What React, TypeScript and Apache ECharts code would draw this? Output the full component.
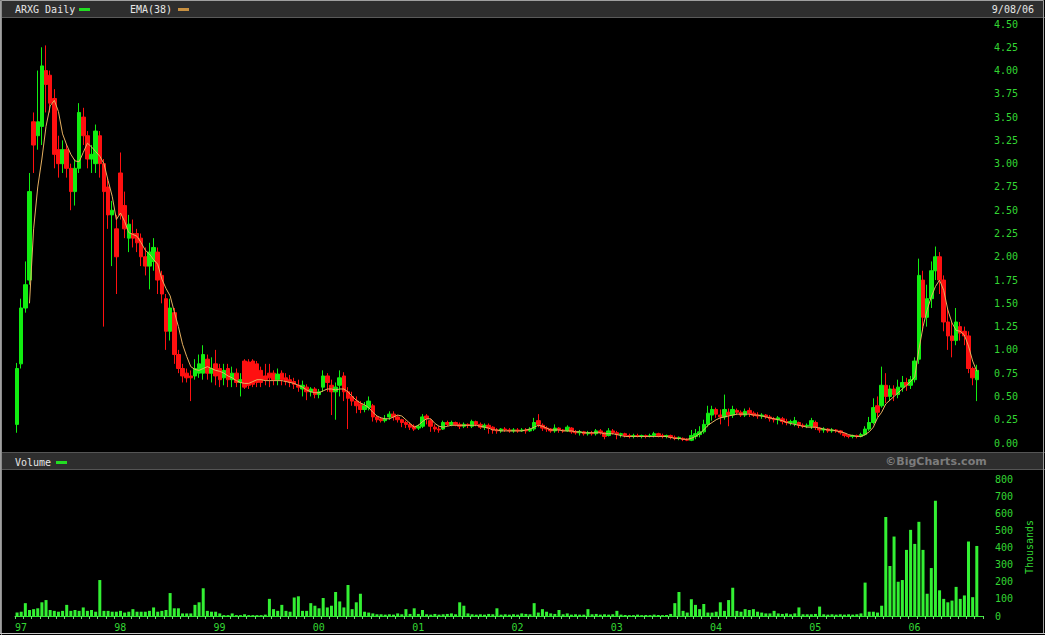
import React, { useEffect, useRef } from 'react';
import * as echarts from 'echarts';

// Semi-monthly candles: [open, close, low, high]
const years = [1997, 1998, 1999, 2000, 2001, 2002, 2003, 2004, 2005, 2006];
const yearLabels = ['97', '98', '99', '00', '01', '02', '03', '04', '05', '06'];

const ohlc1997 = [
  [0.2, 0.8, 0.11, 0.86], [0.85, 1.45, 0.8, 1.55], [1.45, 1.7, 1.4, 1.95], [1.75, 2.7, 1.7, 2.9],
  [3.45, 3.2, 2.9, 3.55], [3.3, 3.45, 3.15, 4.0], [3.4, 4.05, 3.2, 4.25], [4.0, 3.85, 3.55, 4.27],
  [3.95, 3.65, 3.55, 4.0], [3.7, 3.1, 2.95, 3.8], [3.15, 3.0, 2.85, 3.3], [3.0, 3.15, 2.9, 3.25],
  [3.15, 2.95, 2.85, 3.2], [2.95, 2.7, 2.5, 3.0], [2.7, 2.95, 2.55, 3.05], [2.95, 3.55, 2.9, 3.65],
  [3.5, 3.3, 3.2, 3.6], [3.3, 3.05, 2.95, 3.35], [3.05, 3.1, 2.9, 3.2], [3.0, 3.35, 2.9, 3.42],
  [3.3, 3.0, 2.85, 3.35], [3.0, 2.7, 1.25, 3.05], [2.75, 2.45, 2.3, 2.85], [2.45, 2.5, 1.9, 2.6],
];
const ohlc1998 = [
  [2.3, 2.0, 1.6, 2.45], [2.9, 2.45, 2.4, 3.12], [2.55, 2.3, 2.2, 2.7], [2.2, 2.35, 2.05, 2.45],
  [2.25, 2.2, 2.1, 2.4], [2.25, 2.15, 2.05, 2.3], [2.2, 2.0, 1.9, 2.25], [2.0, 1.9, 1.8, 2.1],
  [1.9, 2.05, 1.65, 2.15], [1.95, 2.1, 1.85, 2.2], [2.05, 1.75, 1.6, 2.1], [1.8, 1.6, 1.5, 1.85],
  [1.55, 1.2, 1.0, 1.6], [1.2, 1.45, 1.1, 1.55], [1.4, 0.95, 0.85, 1.45], [0.95, 0.8, 0.75, 1.0],
  [0.8, 0.72, 0.65, 0.85], [0.75, 0.7, 0.65, 0.8], [0.72, 0.7, 0.45, 0.78], [0.72, 0.8, 0.68, 0.9],
  [0.75, 0.85, 0.7, 0.95], [0.75, 0.95, 0.68, 1.05], [0.9, 0.75, 0.68, 0.95], [0.75, 0.8, 0.65, 0.92],
];
const ohlc1999 = [
  [0.85, 0.72, 0.62, 1.0], [0.8, 0.68, 0.6, 0.85], [0.7, 0.78, 0.62, 0.85], [0.8, 0.68, 0.6, 0.85],
  [0.68, 0.75, 0.6, 0.82], [0.75, 0.65, 0.6, 0.8], [0.65, 0.68, 0.5, 0.75], [0.88, 0.6, 0.58, 0.9],
  [0.87, 0.62, 0.58, 0.9], [0.88, 0.63, 0.6, 0.9], [0.85, 0.65, 0.6, 0.88], [0.78, 0.65, 0.6, 0.82],
  [0.72, 0.68, 0.62, 0.85], [0.75, 0.7, 0.6, 0.85], [0.75, 0.68, 0.62, 0.78], [0.68, 0.74, 0.62, 0.8],
  [0.75, 0.68, 0.62, 0.78], [0.7, 0.66, 0.62, 0.75], [0.68, 0.65, 0.6, 0.73], [0.66, 0.63, 0.58, 0.7],
  [0.62, 0.6, 0.55, 0.68], [0.58, 0.62, 0.5, 0.67], [0.6, 0.55, 0.46, 0.63], [0.55, 0.58, 0.5, 0.6],
];
const ohlc2000 = [
  [0.58, 0.52, 0.48, 0.6], [0.52, 0.55, 0.48, 0.58], [0.6, 0.72, 0.55, 0.78], [0.72, 0.65, 0.55, 0.75],
  [0.62, 0.55, 0.3, 0.68], [0.55, 0.6, 0.25, 0.65], [0.62, 0.7, 0.5, 0.78], [0.72, 0.55, 0.45, 0.76],
  [0.55, 0.48, 0.15, 0.6], [0.5, 0.45, 0.4, 0.55], [0.45, 0.4, 0.32, 0.5], [0.42, 0.36, 0.32, 0.45],
  [0.36, 0.4, 0.33, 0.44], [0.38, 0.45, 0.35, 0.5], [0.4, 0.28, 0.23, 0.42], [0.28, 0.25, 0.22, 0.3],
  [0.26, 0.24, 0.22, 0.28], [0.24, 0.26, 0.22, 0.3], [0.28, 0.31, 0.25, 0.34], [0.31, 0.28, 0.24, 0.34],
  [0.28, 0.25, 0.22, 0.3], [0.25, 0.22, 0.17, 0.26], [0.22, 0.2, 0.16, 0.24], [0.2, 0.17, 0.14, 0.22],
];
const ohlc2001 = [
  [0.18, 0.15, 0.13, 0.2], [0.16, 0.18, 0.14, 0.2], [0.18, 0.28, 0.16, 0.31], [0.29, 0.26, 0.2, 0.31],
  [0.24, 0.18, 0.12, 0.26], [0.17, 0.15, 0.12, 0.2], [0.15, 0.14, 0.11, 0.18], [0.15, 0.22, 0.14, 0.24],
  [0.22, 0.2, 0.18, 0.24], [0.2, 0.22, 0.18, 0.24], [0.22, 0.2, 0.18, 0.23], [0.2, 0.18, 0.15, 0.22],
  [0.18, 0.2, 0.16, 0.22], [0.2, 0.19, 0.16, 0.21], [0.18, 0.23, 0.16, 0.25], [0.23, 0.2, 0.18, 0.24],
  [0.2, 0.17, 0.15, 0.22], [0.17, 0.19, 0.14, 0.21], [0.19, 0.16, 0.1, 0.21], [0.17, 0.14, 0.1, 0.18],
  [0.14, 0.13, 0.1, 0.16], [0.13, 0.15, 0.11, 0.16], [0.15, 0.14, 0.12, 0.17], [0.14, 0.13, 0.11, 0.16],
];
const ohlc2002 = [
  [0.13, 0.14, 0.11, 0.16], [0.14, 0.13, 0.11, 0.16], [0.13, 0.14, 0.12, 0.16], [0.14, 0.13, 0.1, 0.16],
  [0.13, 0.15, 0.12, 0.17], [0.15, 0.22, 0.13, 0.27], [0.24, 0.2, 0.17, 0.31], [0.19, 0.16, 0.13, 0.21],
  [0.16, 0.15, 0.12, 0.18], [0.15, 0.13, 0.11, 0.16], [0.13, 0.16, 0.11, 0.2], [0.16, 0.14, 0.11, 0.17],
  [0.14, 0.13, 0.11, 0.15], [0.13, 0.17, 0.12, 0.19], [0.16, 0.12, 0.1, 0.17], [0.12, 0.11, 0.09, 0.14],
  [0.11, 0.12, 0.08, 0.14], [0.12, 0.1, 0.08, 0.13], [0.1, 0.11, 0.08, 0.13], [0.11, 0.1, 0.08, 0.13],
  [0.1, 0.13, 0.08, 0.15], [0.13, 0.11, 0.09, 0.15], [0.11, 0.07, 0.04, 0.12], [0.08, 0.13, 0.07, 0.16],
];
const ohlc2003 = [
  [0.13, 0.11, 0.09, 0.15], [0.11, 0.09, 0.04, 0.13], [0.09, 0.1, 0.06, 0.11], [0.1, 0.08, 0.06, 0.11],
  [0.08, 0.07, 0.05, 0.1], [0.07, 0.08, 0.05, 0.1], [0.08, 0.07, 0.06, 0.1], [0.07, 0.08, 0.05, 0.09],
  [0.08, 0.07, 0.05, 0.09], [0.07, 0.08, 0.06, 0.1], [0.08, 0.1, 0.06, 0.12], [0.1, 0.08, 0.06, 0.11],
  [0.08, 0.07, 0.05, 0.1], [0.07, 0.08, 0.05, 0.09], [0.08, 0.06, 0.04, 0.09], [0.06, 0.05, 0.03, 0.08],
  [0.05, 0.06, 0.03, 0.07], [0.05, 0.04, 0.02, 0.06], [0.04, 0.03, 0.02, 0.05], [0.03, 0.08, 0.02, 0.14],
  [0.07, 0.1, 0.04, 0.15], [0.09, 0.12, 0.06, 0.18], [0.12, 0.2, 0.1, 0.25], [0.2, 0.32, 0.17, 0.4],
];
const ohlc2004 = [
  [0.3, 0.36, 0.24, 0.4], [0.36, 0.31, 0.27, 0.38], [0.3, 0.28, 0.2, 0.36], [0.28, 0.36, 0.25, 0.52],
  [0.33, 0.3, 0.18, 0.37], [0.3, 0.36, 0.27, 0.4], [0.35, 0.33, 0.3, 0.37], [0.33, 0.3, 0.28, 0.35],
  [0.3, 0.34, 0.28, 0.37], [0.35, 0.32, 0.28, 0.38], [0.32, 0.3, 0.28, 0.34], [0.3, 0.29, 0.26, 0.33],
  [0.29, 0.3, 0.26, 0.32], [0.3, 0.28, 0.26, 0.31], [0.28, 0.26, 0.23, 0.3], [0.26, 0.25, 0.22, 0.28],
  [0.25, 0.27, 0.2, 0.29], [0.26, 0.23, 0.2, 0.28], [0.23, 0.22, 0.19, 0.26], [0.22, 0.23, 0.19, 0.25],
  [0.21, 0.24, 0.18, 0.28], [0.22, 0.19, 0.16, 0.23], [0.19, 0.18, 0.16, 0.21], [0.18, 0.19, 0.16, 0.21],
];
const ohlc2005 = [
  [0.18, 0.24, 0.15, 0.27], [0.22, 0.17, 0.14, 0.24], [0.16, 0.14, 0.11, 0.17], [0.14, 0.15, 0.11, 0.17],
  [0.15, 0.13, 0.11, 0.16], [0.13, 0.14, 0.11, 0.16], [0.14, 0.13, 0.11, 0.15], [0.13, 0.11, 0.09, 0.14],
  [0.1, 0.08, 0.06, 0.11], [0.08, 0.07, 0.05, 0.09], [0.07, 0.08, 0.05, 0.09], [0.08, 0.07, 0.05, 0.09],
  [0.07, 0.09, 0.06, 0.11], [0.09, 0.15, 0.08, 0.18], [0.15, 0.22, 0.13, 0.28], [0.22, 0.38, 0.2, 0.48],
  [0.4, 0.33, 0.28, 0.5], [0.4, 0.62, 0.38, 0.82], [0.62, 0.5, 0.43, 0.75], [0.5, 0.58, 0.45, 0.62],
  [0.58, 0.52, 0.45, 0.62], [0.52, 0.6, 0.48, 0.68], [0.6, 0.65, 0.55, 0.72], [0.65, 0.62, 0.56, 0.7],
];
const ohlc2006 = [
  [0.62, 0.68, 0.58, 0.72], [0.68, 0.88, 0.65, 0.92], [0.9, 1.8, 0.85, 1.98], [1.75, 1.35, 1.2, 1.85],
  [1.35, 1.55, 1.25, 1.7], [1.55, 1.85, 1.45, 1.95], [1.85, 2.0, 1.75, 2.11], [2.0, 1.75, 1.6, 2.05],
  [1.75, 1.3, 1.2, 1.8], [1.3, 1.15, 1.0, 1.45], [1.15, 1.1, 0.92, 1.3], [1.1, 1.3, 1.05, 1.45],
  [1.25, 1.18, 1.1, 1.3], [1.2, 1.15, 1.05, 1.25], [1.15, 0.8, 0.75, 1.2], [0.8, 0.7, 0.62, 0.82],
  [0.68, 0.78, 0.45, 0.84],
];

// EMA(38), one value per half-month
const ema1997 = [null, null, null, 1.5, 2.3, 2.75, 3.05, 3.4, 3.62, 3.68, 3.56, 3.32, 3.2, 3.1, 3.03, 3.02, 3.12, 3.22, 3.18, 3.13, 3.08, 3.0, 2.82, 2.65];
const ema1998 = [2.4, 2.47, 2.38, 2.26, 2.24, 2.22, 2.15, 2.07, 2.03, 1.97, 1.92, 1.76, 1.66, 1.58, 1.41, 1.25, 1.06, 0.93, 0.82, 0.79, 0.78, 0.8, 0.82, 0.8];
const ema1999 = [0.78, 0.77, 0.75, 0.72, 0.7, 0.67, 0.65, 0.64, 0.64, 0.66, 0.68, 0.68, 0.67, 0.67, 0.67, 0.67, 0.67, 0.66, 0.65, 0.64, 0.62, 0.6, 0.57, 0.55];
const ema2000 = [0.54, 0.54, 0.56, 0.58, 0.58, 0.57, 0.58, 0.58, 0.55, 0.5, 0.46, 0.43, 0.41, 0.38, 0.33, 0.29, 0.27, 0.26, 0.26, 0.28, 0.3, 0.29, 0.25, 0.21];
const ema2001 = [0.17, 0.19, 0.23, 0.26, 0.26, 0.21, 0.18, 0.17, 0.18, 0.19, 0.19, 0.19, 0.19, 0.19, 0.19, 0.19, 0.18, 0.17, 0.16, 0.14, 0.14, 0.13, 0.13, 0.13];
const ema2002 = [0.13, 0.13, 0.13, 0.14, 0.15, 0.17, 0.19, 0.18, 0.16, 0.14, 0.14, 0.14, 0.13, 0.13, 0.13, 0.12, 0.12, 0.11, 0.11, 0.11, 0.11, 0.11, 0.1, 0.1];
const ema2003 = [0.1, 0.09, 0.08, 0.07, 0.07, 0.07, 0.07, 0.07, 0.07, 0.07, 0.07, 0.07, 0.07, 0.07, 0.06, 0.05, 0.05, 0.04, 0.04, 0.05, 0.07, 0.1, 0.14, 0.19];
const ema2004 = [0.22, 0.25, 0.27, 0.28, 0.29, 0.3, 0.31, 0.31, 0.31, 0.31, 0.3, 0.3, 0.29, 0.28, 0.27, 0.26, 0.25, 0.24, 0.22, 0.21, 0.2, 0.19, 0.18, 0.17];
const ema2005 = [0.17, 0.17, 0.16, 0.15, 0.14, 0.14, 0.13, 0.12, 0.11, 0.09, 0.08, 0.07, 0.07, 0.09, 0.12, 0.17, 0.27, 0.33, 0.42, 0.46, 0.5, 0.54, 0.58, 0.62];
const ema2006 = [0.66, 0.71, 1.0, 1.25, 1.43, 1.57, 1.68, 1.75, 1.64, 1.43, 1.29, 1.21, 1.2, 1.16, 1.04, 0.88, 0.77];

// Volume (thousands), one bar per half-month
const vol1997 = [20, 25, 75, 35, 40, 45, 80, 93, 35, 30, 25, 30, 65, 30, 35, 30, 50, 30, 35, 25, 210, 30, 30, 25];
const vol1998 = [25, 30, 20, 25, 40, 25, 25, 25, 30, 50, 25, 30, 35, 134, 45, 45, 15, 15, 15, 65, 80, 162, 30, 25];
const vol1999 = [25, 15, 5, 5, 15, 5, 5, 10, 5, 5, 5, 5, 8, 100, 40, 30, 65, 30, 25, 108, 115, 30, 30, 75];
const vol2000 = [60, 45, 105, 50, 60, 140, 85, 50, 181, 40, 80, 130, 25, 20, 15, 10, 10, 8, 10, 8, 15, 10, 40, 12];
const vol2001 = [45, 12, 35, 10, 8, 12, 8, 10, 12, 15, 10, 80, 60, 15, 10, 8, 10, 8, 12, 10, 45, 8, 10, 8];
const vol2002 = [10, 8, 15, 12, 10, 75, 20, 40, 25, 15, 12, 35, 10, 15, 8, 10, 8, 8, 40, 10, 12, 8, 10, 8];
const vol2003 = [10, 30, 8, 6, 5, 5, 8, 5, 6, 5, 8, 6, 5, 6, 12, 75, 140, 30, 20, 98, 65, 40, 70, 20];
const vol2004 = [20, 25, 80, 30, 93, 165, 30, 25, 40, 35, 40, 25, 20, 15, 15, 30, 15, 12, 15, 10, 15, 50, 10, 10];
const vol2005 = [10, 12, 55, 10, 8, 10, 8, 10, 8, 10, 8, 10, 15, 195, 25, 25, 20, 60, 578, 292, 464, 200, 210, 386];
const vol2006 = [503, 421, 550, 386, 130, 280, 673, 150, 100, 80, 90, 170, 100, 120, 435, 110, 409];

const ohlcByYear = [ohlc1997, ohlc1998, ohlc1999, ohlc2000, ohlc2001, ohlc2002, ohlc2003, ohlc2004, ohlc2005, ohlc2006];
const emaByYear = [ema1997, ema1998, ema1999, ema2000, ema2001, ema2002, ema2003, ema2004, ema2005, ema2006];
const volByYear = [vol1997, vol1998, vol1999, vol2000, vol2001, vol2002, vol2003, vol2004, vol2005, vol2006];

const GREEN_TXT = '#33d633';
const MONO = '"DejaVu Sans Mono", monospace';

export default function App() {
  const ref = useRef<HTMLDivElement>(null);

  useEffect(() => {
    document.body.style.margin = '0';
    document.body.style.background = '#000';
    if (!ref.current) return;
    const chart = echarts.init(ref.current, undefined, { renderer: 'svg' });

    const candles: number[][] = [];
    const emaPts: number[][] = [];
    const volPts: number[][] = [];
    years.forEach((y, i) => {
      ohlcByYear[i].forEach((r, j) => {
        const t = y + (j + 0.5) / 24;
        candles.push([t, r[0], r[1], r[2], r[3]]);
        const e = emaByYear[i][j];
        if (e != null) emaPts.push([t, e]);
        volPts.push([t, volByYear[i][j]]);
      });
    });

    const yearFmt = (v: number) => {
      const k = Math.round(v * 12);
      if (Math.abs(v * 12 - k) > 1e-4 || k % 12 !== 0) return '';
      const idx = k / 12 - 1997;
      return yearLabels[idx] ?? '';
    };

    const txt = (x: number, y: number, text: string, fill: string, font: string, align = 'left') => ({
      type: 'text',
      x,
      y,
      silent: true,
      style: { text, fill, font, textAlign: align, textVerticalAlign: 'middle', align, verticalAlign: 'middle' },
    });

    const option: any = {
      animation: false,
      backgroundColor: '#000',
      grid: [
        { left: 15, right: 62, top: 24, height: 419 },
        { left: 15, right: 62, top: 479, height: 137 },
      ],
      xAxis: [
        { type: 'value', gridIndex: 0, min: 1997, max: 2006.75, show: false },
        {
          type: 'value',
          gridIndex: 1,
          min: 1997,
          max: 2006.75,
          interval: 1 / 12,
          axisLine: { show: true, onZero: false, lineStyle: { color: '#33ee33', width: 1 } },
          axisTick: { show: true, length: 3, lineStyle: { color: '#66dd66' } },
          splitLine: { show: false },
          axisLabel: { formatter: yearFmt, align: 'left', color: GREEN_TXT, fontFamily: MONO, fontSize: 10, margin: 6 },
        },
      ],
      yAxis: [
        {
          type: 'value', gridIndex: 0, position: 'right', min: 0, max: 4.5, interval: 0.25,
          axisLine: { show: false }, axisTick: { show: false }, splitLine: { show: false },
          axisLabel: { formatter: (v: number) => v.toFixed(2), color: GREEN_TXT, fontFamily: MONO, fontSize: 10, margin: 11 },
        },
        {
          type: 'value', gridIndex: 1, position: 'right', min: 0, max: 800, interval: 100,
          axisLine: { show: false }, axisTick: { show: false }, splitLine: { show: false },
          axisLabel: { color: GREEN_TXT, fontFamily: MONO, fontSize: 10, margin: 12 },
        },
      ],
      series: [
        {
          type: 'candlestick',
          xAxisIndex: 0,
          yAxisIndex: 0,
          data: candles,
          encode: { x: 0, y: [1, 2, 3, 4] },
          barWidth: 4,
          itemStyle: { color: '#11ee11', color0: '#ff1010', borderColor: '#11ee11', borderColor0: '#ff1010', borderWidth: 1 },
        },
        {
          type: 'line',
          xAxisIndex: 0,
          yAxisIndex: 0,
          data: emaPts,
          symbol: 'none',
          showSymbol: false,
          lineStyle: { color: '#e6b060', width: 1 },
          z: 5,
        },
        {
          type: 'bar',
          xAxisIndex: 1,
          yAxisIndex: 1,
          data: volPts,
          barWidth: 3,
          itemStyle: { color: '#33f033' },
        },
      ],
      graphic: [
        { type: 'rect', shape: { x: 1, y: 0, width: 1043, height: 17 }, style: { fill: '#2e2e2e' }, silent: true },
        { type: 'line', shape: { x1: 0, y1: 17.5, x2: 1045, y2: 17.5 }, style: { stroke: '#5a5a5a', lineWidth: 1 }, silent: true },
        { type: 'rect', shape: { x: 1, y: 453, width: 1043, height: 16 }, style: { fill: '#2e2e2e' }, silent: true },
        { type: 'line', shape: { x1: 0, y1: 452.5, x2: 1045, y2: 452.5 }, style: { stroke: '#555', lineWidth: 1 }, silent: true },
        { type: 'line', shape: { x1: 0, y1: 469.5, x2: 1045, y2: 469.5 }, style: { stroke: '#555', lineWidth: 1 }, silent: true },
        { type: 'rect', shape: { x: 0.5, y: 0.5, width: 1043, height: 633 }, style: { fill: 'none', stroke: '#a0a0a0', lineWidth: 1 }, silent: true },
        { type: 'line', shape: { x1: 1.5, y1: 0, x2: 1.5, y2: 635 }, style: { stroke: '#8a8a8a', lineWidth: 1 }, silent: true },
        { type: 'line', shape: { x1: 0, y1: 633.5, x2: 1045, y2: 633.5 }, style: { stroke: '#c8c8c8', lineWidth: 1 }, silent: true },
        txt(15, 9, 'ARXG Daily', '#e6e6e6', `10px ${MONO}`),
        { type: 'rect', shape: { x: 79, y: 8, width: 11, height: 3 }, style: { fill: '#22dd22' }, silent: true },
        txt(130, 9, 'EMA(38)', '#e6e6e6', `10px ${MONO}`),
        { type: 'rect', shape: { x: 178, y: 8, width: 11, height: 3 }, style: { fill: '#c89040' }, silent: true },
        txt(1034, 9, '9/08/06', '#e6e6e6', `10px ${MONO}`, 'right'),
        txt(15, 462, 'Volume', '#e6e6e6', `10px ${MONO}`),
        { type: 'rect', shape: { x: 56, y: 461, width: 11, height: 3 }, style: { fill: '#22dd22' }, silent: true },
        txt(936, 461, '\u00A9BigCharts.com', '#7c7c7c', 'bold 11px "DejaVu Sans", sans-serif', 'center'),
        {
          type: 'text',
          x: 1029,
          y: 547,
          rotation: Math.PI / 2,
          silent: true,
          style: { text: 'Thousands', fill: GREEN_TXT, font: `10px ${MONO}`, textAlign: 'center', textVerticalAlign: 'middle', align: 'center', verticalAlign: 'middle' },
        },
      ],
    };

    chart.setOption(option);
    return () => chart.dispose();
  }, []);

  return <div ref={ref} style={{ width: 1045, height: 635, background: '#000' }} />;
}
